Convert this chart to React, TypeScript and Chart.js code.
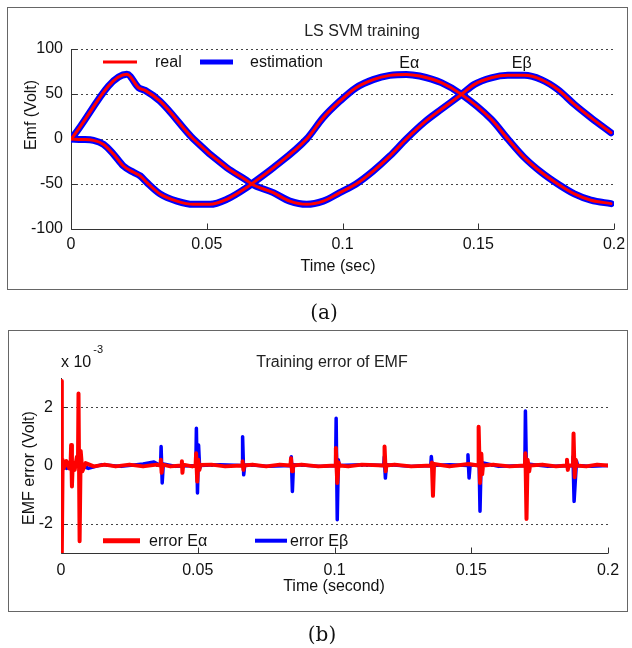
import React, { useEffect, useRef } from "react";
import { Chart, registerables } from "chart.js";
Chart.register(...registerables);

// ---------- data ----------
const xTicks = [0, 0.05, 0.1, 0.15, 0.2];
const yTicksA = [-100, -50, 0, 50, 100];
const yTicksB = [-2, 0, 2];

// Eα (time s, emf V)
const alphaCurve: number[][] = [
  [0, 0], [0.004, -0.5], [0.0083, -1.5], [0.012, -6], [0.0157, -17], [0.0193, -30],
  [0.023, -37], [0.0255, -41], [0.028, -48.5], [0.0328, -61], [0.039, -69], [0.045, -72.6],
  [0.0512, -72.6], [0.0574, -67], [0.0647, -54], [0.0665, -50], [0.0745, -32], [0.0868, 0],
  [0.0929, 23.7], [0.099, 42], [0.105, 57], [0.1113, 66], [0.1174, 70.7], [0.1235, 71.8],
  [0.1284, 70], [0.1364, 62.6], [0.1438, 49.6], [0.1548, 21.9], [0.1609, 0], [0.167, -20.7],
  [0.1732, -37], [0.1793, -50], [0.1854, -61], [0.1915, -68], [0.1989, -71.8],
];
// Eβ (time s, emf V)
const betaCurve: number[][] = [
  [0, 0], [0.0206, 71.9], [0.0249, 57], [0.0273, 54], [0.0328, 42], [0.0451, 0],
  [0.0574, -32], [0.0647, -46], [0.0665, -50], [0.0745, -59.6], [0.0806, -69], [0.0868, -72.6],
  [0.0929, -69], [0.099, -59.6], [0.105, -50], [0.1113, -35.6], [0.1174, -19], [0.1235, 0],
  [0.1303, 19], [0.1364, 33], [0.1438, 49.6], [0.1486, 60.7], [0.1548, 68], [0.1609, 70.7],
  [0.167, 70.7], [0.1732, 66], [0.1793, 55], [0.1854, 38.5], [0.1915, 23.7], [0.1989, 7],
];
const curveNames = ["Eα", "Eβ"];
const curveLabelT = [0.1246, 0.166];
const curveLabelV = [84, 84];

// training errors (time s, error x 1e-3 V)
const errAlpha: number[][] = [
  [0, 2.9], [0.0003, -3], [0.0006, 0.2], [0.001, -0.1], [0.002, 0.15], [0.003, -0.1], [0.0035, 0.05],
  [0.0037, 0.7], [0.004, -0.72], [0.0043, 0.1], [0.005, -0.15], [0.0058, 0.3], [0.0062, 0.05], [0.0064, 2.47],
  [0.0068, -2.6], [0.0072, 0.5], [0.0078, -0.2], [0.009, 0.08], [0.012, -0.03], [0.016, 0.03],
  [0.02, -0.03], [0.025, 0.03], [0.03, -0.03], [0.035, 0.03], [0.0363, 0], [0.0365, 0.2], [0.0368, -0.25],
  [0.0372, 0.03], [0.04, -0.03], [0.044, 0], [0.0442, 0.15], [0.0444, -0.25], [0.0447, 0.03], [0.048, -0.03],
  [0.0492, 0], [0.0494, 0.42], [0.0498, -0.55], [0.0502, 0.2], [0.0506, -0.15], [0.0509, 0.02], [0.055, 0.03],
  [0.06, -0.03], [0.0662, 0], [0.0664, 0.15], [0.0667, -0.15], [0.067, 0], [0.07, 0.03], [0.075, -0.03],
  [0.08, 0.03], [0.0839, 0], [0.0841, 0.25], [0.0845, -0.2], [0.0848, 0], [0.088, 0.03], [0.094, -0.03],
  [0.1003, 0], [0.1005, 0.6], [0.101, -0.6], [0.1015, 0.1], [0.1018, 0], [0.105, -0.03], [0.11, 0.03],
  [0.1181, 0], [0.1183, 0.65], [0.1187, -0.2], [0.119, 0], [0.122, 0.03], [0.128, -0.03], [0.1354, 0],
  [0.1356, 0.1], [0.136, -1.04], [0.1364, 0.05], [0.142, -0.03], [0.149, 0.05], [0.1525, 0], [0.1527, 1.33],
  [0.1532, -0.6], [0.1537, 0.4], [0.154, -0.3], [0.1543, 0], [0.158, 0.03], [0.164, -0.03], [0.1696, 0],
  [0.1698, 0.42], [0.1702, -1.83], [0.1706, 0.2], [0.1712, -0.2], [0.1715, 0], [0.176, 0.03], [0.181, -0.03],
  [0.1848, 0], [0.185, 0.2], [0.1853, -0.15], [0.1856, 0], [0.1872, 0], [0.1874, 1.1], [0.1878, -0.4],
  [0.1882, 0.2], [0.1885, 0], [0.192, -0.03], [0.196, 0.03], [0.2, 0],
];
const errBeta: number[][] = [
  [0, 0.1], [0.002, -0.1], [0.0064, 0], [0.0066, 0.4], [0.007, -0.3], [0.0074, 0], [0.01, -0.1],
  [0.015, 0.03], [0.022, -0.03], [0.03, 0.05], [0.034, 0.12], [0.0364, 0], [0.0366, 0.65], [0.037, -0.6],
  [0.0374, 0.05], [0.042, -0.03], [0.0493, 0], [0.0495, 1.28], [0.0499, -0.94], [0.0503, 0.7], [0.0507, -0.1],
  [0.051, 0], [0.058, 0.03], [0.0662, 0], [0.0664, 0.99], [0.0668, -0.32], [0.0672, 0.03], [0.076, -0.03],
  [0.084, 0], [0.0842, 0.3], [0.0846, -0.89], [0.085, 0.03], [0.095, -0.03], [0.1004, 0], [0.1006, 1.62],
  [0.101, -1.86], [0.1014, 0.2], [0.1017, 0], [0.11, 0.03], [0.118, 0], [0.1182, 0.3], [0.1186, -0.43],
  [0.119, 0.03], [0.128, -0.03], [0.1352, 0], [0.1354, 0.31], [0.1358, -0.1], [0.1361, 0], [0.142, 0.03],
  [0.1486, 0], [0.1488, 0.37], [0.1492, -0.43], [0.1496, 0.03], [0.1526, 0], [0.1528, 0.5], [0.1532, -1.57],
  [0.1536, 0.1], [0.16, -0.03], [0.1696, 0], [0.1698, 1.87], [0.1702, -0.3], [0.1706, 0.05], [0.178, -0.03],
  [0.187, 0], [0.1872, 0.3], [0.1876, -1.23], [0.188, -0.6], [0.1885, 0.15], [0.1889, 0], [0.194, -0.03],
  [0.2, 0],
];

// ---------- helpers ----------
const FONT = "'Liberation Sans', Arial, Helvetica, sans-serif";
const RED = "#ff0000";
const BLUE = "#0000ff";
const pts = (a: number[][]) => a.map(([x, y]) => ({ x, y }));

function txt(ctx: CanvasRenderingContext2D, s: string, x: number, y: number,
  align: CanvasTextAlign = "center", size = 16, rotate = false, color = "#111") {
  ctx.save();
  ctx.font = `${size}px ${FONT}`;
  ctx.fillStyle = color;
  ctx.textAlign = align;
  ctx.textBaseline = "middle";
  ctx.translate(x, y);
  if (rotate) ctx.rotate(-Math.PI / 2);
  ctx.fillText(s, 0, 0);
  ctx.restore();
}

function seg(ctx: CanvasRenderingContext2D, x1: number, y1: number, x2: number, y2: number, color: string, w: number) {
  ctx.save();
  ctx.strokeStyle = color;
  ctx.lineWidth = w;
  ctx.beginPath();
  ctx.moveTo(x1, y1);
  ctx.lineTo(x2, y2);
  ctx.stroke();
  ctx.restore();
}

function drawFrame(chart: any, yTicks: number[]) {
  const { ctx, chartArea: ca, scales } = chart;
  const x = scales.x, y = scales.y;
  ctx.save();
  ctx.strokeStyle = "#444";
  ctx.lineWidth = 1;
  ctx.setLineDash([2, 3]);
  yTicks.forEach((v) => {
    if (v <= y.min) return;
    const py = Math.round(y.getPixelForValue(v)) + 0.5;
    ctx.beginPath();
    ctx.moveTo(ca.left, py);
    ctx.lineTo(ca.right, py);
    ctx.stroke();
  });
  ctx.setLineDash([]);
  const L = Math.round(ca.left) + 0.5;
  const B = Math.round(ca.bottom) + 0.5;
  seg(ctx, L, ca.top, L, B, "#333", 1);
  seg(ctx, L, B, ca.right, B, "#333", 1);
  xTicks.forEach((v) => {
    const px = Math.round(x.getPixelForValue(v)) + 0.5;
    seg(ctx, px, B, px, B - 6, "#333", 1);
  });
  yTicks.forEach((v) => {
    const py = Math.round(y.getPixelForValue(v)) + 0.5;
    seg(ctx, L, py, L + 6, py, "#333", 1);
  });
  ctx.restore();
}

const decorA = {
  id: "decorA",
  beforeDatasetsDraw(chart: any) {
    drawFrame(chart, yTicksA);
  },
  afterDatasetsDraw(chart: any) {
    const { ctx, scales } = chart;
    txt(ctx, "LS SVM training", 362, 32, "center", 16, false, "#222");
    seg(ctx, 103, 62, 137, 62, RED, 3);
    txt(ctx, "real", 155, 63, "left");
    seg(ctx, 200, 62, 233, 62, BLUE, 5);
    txt(ctx, "estimation", 250, 63, "left");
    curveNames.forEach((n, i) => {
      txt(ctx, n, scales.x.getPixelForValue(curveLabelT[i]), scales.y.getPixelForValue(curveLabelV[i]), "center");
    });
    txt(ctx, "Emf (Volt)", 32, 115, "center", 16, true);
    txt(ctx, "Time (sec)", 338, 267, "center");
  },
};

const decorB = {
  id: "decorB",
  beforeDatasetsDraw(chart: any) {
    drawFrame(chart, yTicksB);
  },
  afterDatasetsDraw(chart: any) {
    const { ctx } = chart;
    ctx.save();
    ctx.font = `16px ${FONT}`;
    const w = ctx.measureText("x 10").width;
    ctx.restore();
    txt(ctx, "x 10", 61, 53, "left");
    txt(ctx, "-3", 61 + w + 2, 40, "left", 11);
    txt(ctx, "Training error of EMF", 332, 53, "center", 16, false, "#222");
    seg(ctx, 103, 230.7, 140, 230.7, RED, 5);
    txt(ctx, "error Eα", 149, 231.5, "left");
    seg(ctx, 255, 230.7, 287, 230.7, BLUE, 4);
    txt(ctx, "error Eβ", 290, 231.5, "left");
    txt(ctx, "EMF error (Volt)", 30, 158, "center", 16, true);
    txt(ctx, "Time (second)", 334, 277, "center");
  },
};

function scalesFor(yMin: number, yMax: number, yTicks: number[], yWidth: number, xHeight: number, xPad: number) {
  const tickFont = { family: FONT, size: 16 };
  return {
    x: {
      type: "linear" as const,
      min: 0,
      max: 0.2,
      afterBuildTicks: (s: any) => { s.ticks = xTicks.map((v) => ({ value: v })); },
      afterFit: (s: any) => { s.height = xHeight; },
      grid: { display: false, drawTicks: false },
      border: { display: false },
      ticks: { font: tickFont, color: "#111", padding: xPad, maxRotation: 0, autoSkip: false, callback: (v: any) => String(v) },
    },
    y: {
      type: "linear" as const,
      min: yMin,
      max: yMax,
      afterBuildTicks: (s: any) => { s.ticks = yTicks.map((v) => ({ value: v })); },
      afterFit: (s: any) => { s.width = yWidth; },
      grid: { display: false, drawTicks: false },
      border: { display: false },
      ticks: { font: tickFont, color: "#111", padding: 8, autoSkip: false, callback: (v: any) => String(v) },
    },
  };
}

export default function App() {
  const refA = useRef<HTMLCanvasElement>(null);
  const refB = useRef<HTMLCanvasElement>(null);

  useEffect(() => {
    const line = (data: number[][], color: string, w: number, smooth: boolean) => ({
      data: pts(data),
      borderColor: color,
      backgroundColor: color,
      borderWidth: w,
      pointRadius: 0,
      tension: smooth ? 0.4 : 0,
      cubicInterpolationMode: smooth ? ("monotone" as const) : ("default" as const),
      borderJoinStyle: "round" as const,
      borderCapStyle: "round" as const,
      fill: false,
    });
    const chartA = new Chart(refA.current!, {
      type: "line",
      data: {
        datasets: [
          line(alphaCurve, RED, 3, true),
          line(betaCurve, RED, 3, true),
          line(alphaCurve, BLUE, 7, true),
          line(betaCurve, BLUE, 7, true),
        ],
      },
      options: {
        responsive: false,
        animation: false,
        layout: { padding: { top: 49, right: 18, left: 0, bottom: 0 } },
        plugins: { legend: { display: false }, tooltip: { enabled: false }, title: { display: false } },
        scales: scalesFor(-100, 100, yTicksA, 71, 71, 6) as any,
      },
      plugins: [decorA],
    });
    const chartB = new Chart(refB.current!, {
      type: "line",
      data: {
        datasets: [
          line(errAlpha, RED, 4, false),
          line(errBeta, BLUE, 3.5, false),
        ],
      },
      options: {
        responsive: false,
        animation: false,
        layout: { padding: { top: 68, right: 24, left: 0, bottom: 0 } },
        plugins: { legend: { display: false }, tooltip: { enabled: false }, title: { display: false } },
        scales: scalesFor(-3, 3, yTicksB, 61, 77, 8) as any,
      },
      plugins: [decorB],
    });
    return () => {
      chartA.destroy();
      chartB.destroy();
    };
  }, []);

  const caption: React.CSSProperties = {
    position: "absolute",
    width: 100,
    textAlign: "center",
    fontFamily: "'DejaVu Serif', serif",
    fontSize: 20,
    lineHeight: "24px",
    color: "#111",
  };

  return (
    <div style={{ position: "absolute", left: 0, top: 0, width: 632, height: 648, background: "#fff", overflow: "hidden" }}>
      <div style={{ position: "absolute", left: 7, top: 7, width: 619, height: 281, border: "1px solid #666" }} />
      <div style={{ position: "absolute", left: 8, top: 330, width: 618, height: 280, border: "1px solid #666" }} />
      <canvas ref={refA} width={632} height={300} style={{ position: "absolute", left: 0, top: 0 }} />
      <canvas ref={refB} width={632} height={320} style={{ position: "absolute", left: 0, top: 310 }} />
      <div style={{ ...caption, left: 274, top: 300 }}>(a)</div>
      <div style={{ ...caption, left: 272, top: 622 }}>(b)</div>
    </div>
  );
}
